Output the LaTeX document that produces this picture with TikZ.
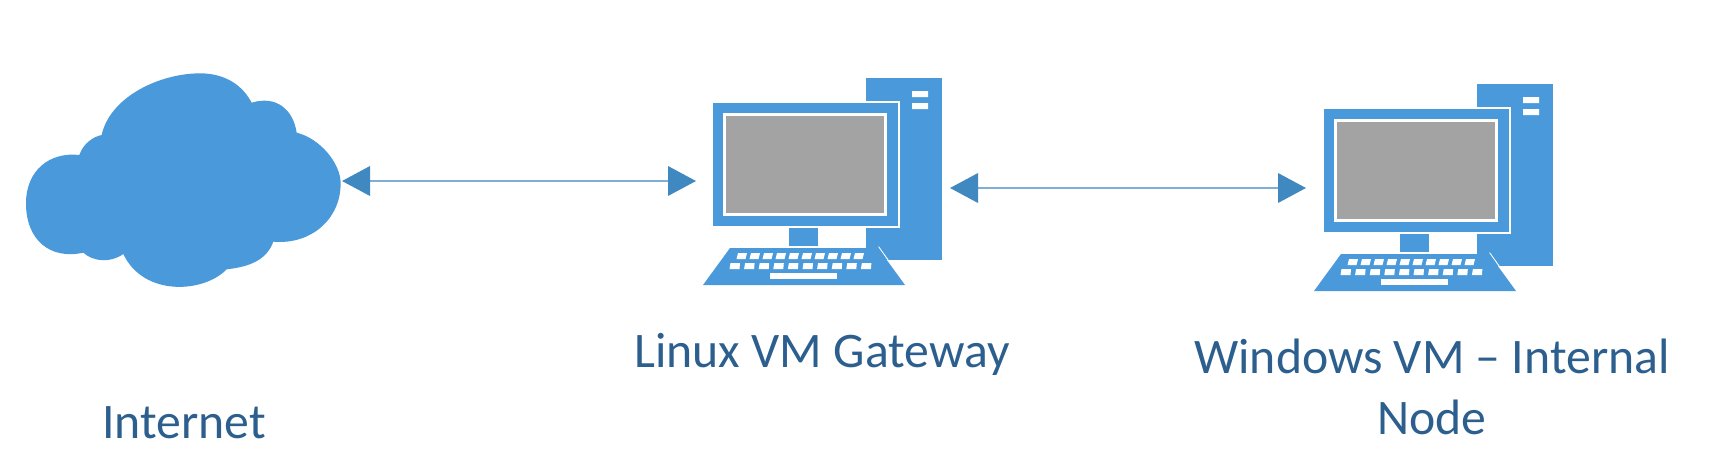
\documentclass[tikz,border=0pt]{standalone}
\usepackage{fontspec}
\setmainfont{Carlito}
\usetikzlibrary{arrows.meta}
\definecolor{iconblue}{HTML}{4A9ADB}
\definecolor{arrowblue}{HTML}{3F88C0}
\definecolor{linkline}{HTML}{7FAFD6}
\definecolor{screengray}{HTML}{A3A3A3}
\definecolor{labelcol}{HTML}{2C5F8E}
\tikzset{
  x=0.75pt,y=-0.75pt,
  link/.style={draw=linkline,line width=1.9pt,{Triangle[length=21pt,width=22pt,color=arrowblue]}-{Triangle[length=21pt,width=22pt,color=arrowblue]}},
  lbl/.style={text=labelcol,font=\fontsize{37.3pt}{45.5pt}\selectfont,align=center,inner sep=0pt},
  pics/computer/.style={code={
    \fill[iconblue] (186,18) rectangle (262,200);
    \fill[white] (232,31) rectangle (248,37) (232,43) rectangle (248,49);
    \fill[white] (186,41) rectangle (220,168);
    \fill[iconblue] (33,43) rectangle (218,166);
    \fill[white] (43,53) rectangle (207,156);
    \fill[screengray] (46,56) rectangle (204,153);
    \fill[iconblue] (186,168) rectangle (220,187);
    \fill[iconblue] (109,168) rectangle (138,186);
    \fill[white] (198,186.5) -- (199,186.5) -- (226.5,225) -- (225,225) -- cycle;
    \fill[iconblue] (50,188) -- (198,188) -- (225,225) -- (23,225) -- cycle;
    \foreach \i in {0,...,9}{
      \fill[white] ({58+\i*13},193) -- ({67+\i*13},193) -- ({65.5+\i*13},199) -- ({56.5+\i*13},199) -- cycle;
      \fill[white] ({50.5+\i*14.6},203) -- ({60+\i*14.6},203) -- ({59.5+\i*14.6},209) -- ({49.5+\i*14.6},209) -- cycle;
    }
    \fill[white] (90,213) rectangle (157,219);
  }}
}
\begin{document}
\begin{tikzpicture}
\useasboundingbox (0,0) rectangle (1712,458);
\begin{scope}[shift={(0,60)},xscale=1/3,yscale=1/3]
\fill[iconblue]
  (238,285) .. controls (250,250) and (280,230) .. (305,225)
  .. controls (330,110) and (480,40) .. (600,40)
  .. controls (680,40) and (730,80) .. (755,128)
  .. controls (830,105) and (880,150) .. (890,218)
  .. controls (960,235) and (1022,310) .. (1022,370)
  .. controls (1022,480) and (930,555) .. (820,545)
  .. controls (800,600) and (750,620) .. (680,628)
  .. controls (610,700) and (430,710) .. (370,582)
  .. controls (330,610) and (280,605) .. (250,578)
  .. controls (150,600) and (78,540) .. (78,430)
  .. controls (78,330) and (150,275) .. (238,285) -- cycle;
\end{scope}
\pic at (680,60) {computer};
\pic at (1291,66) {computer};
\coordinate (cloudE) at (342,181);
\coordinate (gwW) at (696,181);
\coordinate (gwE) at (950,188);
\coordinate (winW) at (1306,188);
\draw[link] (cloudE) -- (gwW);
\draw[link] (gwE) -- (winW);
\node[lbl] (inet) at (184,423) {Internet};
\node[lbl] (gwlabel) at (822,354) {Linux VM Gateway};
\node[lbl] (winlabel) at (1432,387) {Windows VM – Internal\\Node};
\end{tikzpicture}
\end{document}
